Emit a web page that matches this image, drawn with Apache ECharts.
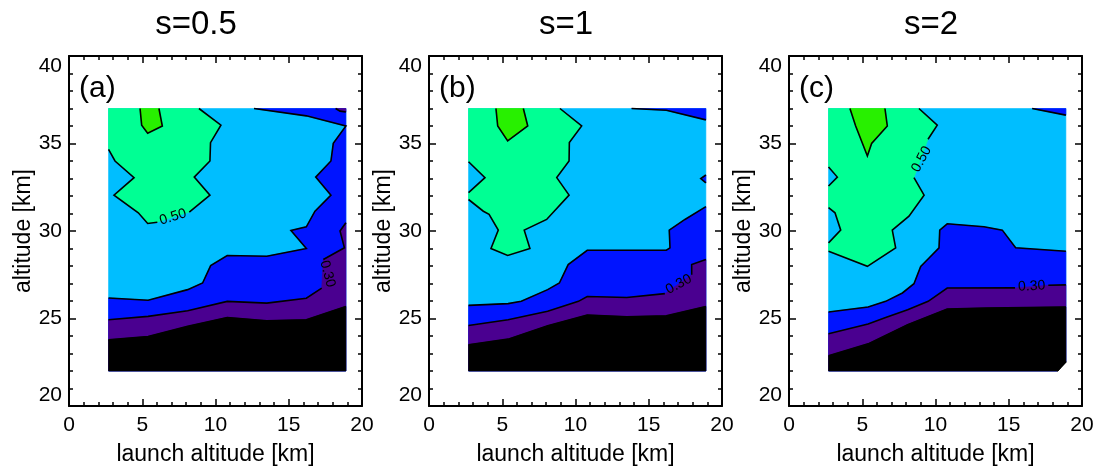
<!DOCTYPE html>
<html><head><meta charset="utf-8">
<script src="https://cdn.jsdelivr.net/npm/echarts@6/dist/echarts.min.js"></script>
<style>html,body{margin:0;padding:0;background:#fff;}#c{width:1094px;height:466px;}</style>
</head><body><div id="c"></div>
<script>
// ---------- text ----------
const titles = ['s=0.5', 's=1', 's=2'];
const tags = ['(a)', '(b)', '(c)'];
const xName = 'launch altitude [km]';
const yName = 'altitude [km]';
const xTickValues = [0, 5, 10, 15, 20];
const yTickValues = [20, 25, 30, 35, 40];

// ---------- data: contour regions [launch altitude km, altitude km]; null = gap for a contour label ----------
// Panel (a) s=0.5
const aDomain = [[2.7,22],[2.7,37],[18.9,37],[18.9,22]];
const aBlue = [[2.7,22],[2.7,26.17],[5.4,26.04],[8.1,26.65],[9.12,27.03],[9.67,28.02],[10.8,28.6],[13.5,28.56],[16.2,29.0],[15.15,30.03],[16.2,30.24],[16.79,31.13],[17.88,32.05],[16.84,33.08],[17.88,34.0],[18.04,35.01],[18.9,36.0],[16.2,36.58],[12.63,37],[18.9,37],[18.9,22]];
const aPurpleTop = [[18.2,37],[18.5,36.85],[18.9,36.8],[18.9,37]];
const aPurple = [[2.7,22],[2.7,24.93],[5.4,25.12],[8.1,25.44],[10.8,25.98],[13.5,25.88],[16.2,26.16],[17.25,26.74],null,[17.36,28.37],[18.8,29.04],[18.5,30.0],[18.9,30.47],[18.9,22]];
const aBlack = [[2.7,22],[2.7,23.78],[5.4,23.97],[8.1,24.55],[10.8,25.06],[13.5,24.87],[16.2,24.93],[18.9,25.69],[18.9,22]];
const aGreen = [[2.7,37],[2.7,34.67],[3.14,34.0],[4.44,33.05],[3.07,32.05],[4.73,31.04],[5.37,30.43],[6.03,30.5],null,[8.21,31.08],[9.62,32.05],[8.55,33.08],[9.62,34.0],[9.66,35.05],[10.37,36.05],[8.87,37]];
const aLime = [[4.85,37],[4.96,36.05],[5.37,35.59],[6.37,36.0],[6.14,37]];
const aLabelText = ['0.50', '0.30'];
const aLabelPos = [[7.1,30.8],[17.65,27.55]];

// Panel (b) s=1
const bDomain = [[2.7,22],[2.7,37],[18.9,37],[18.9,22]];
const bBlue = [[2.7,22],[2.7,25.75],[5.4,25.85],[6.3,25.98],[8.1,26.65],[8.9,27.03],[9.5,28.08],[10.8,28.9],[16.2,28.9],[16.45,29.04],[16.4,30.05],[17.47,30.66],[18.9,31.39],[18.9,22]];
const bBlueTop = [[13.83,37],[16.2,36.9],[18.9,36.35],[18.9,37]];
const bBlueNotch = [[18.9,33.2],[18.55,33.0],[18.9,32.75]];
const bPurple = [[2.7,22],[2.7,24.6],[5.4,24.93],[8.1,25.41],[10.2,25.98],[10.8,26.26],[13.5,26.2],[16.1,26.42],null,[17.93,27.5],[17.93,28.08],[18.9,28.37],[18.9,22]];
const bBlack = [[2.7,22],[2.7,23.5],[5.4,23.82],[8.1,24.58],[10.8,25.2],[13.5,25.1],[16.2,25.15],[18.9,25.69],[18.9,22]];
const bGreen = [[2.7,37],[2.7,33.96],[3.82,33.05],[2.7,32.19],[2.7,31.8],[3.71,31.13],[4.1,30.95],[4.73,30.05],[4.23,29.0],[5.37,28.6],[6.89,29.0],[6.5,30.05],[8.03,30.66],[9.56,32.05],[8.72,33.05],[9.56,34.0],[9.58,35.05],[10.42,36.0],[8.94,37]];
const bLime = [[4.57,37],[4.69,36.0],[5.37,35.15],[6.74,36.0],[6.44,37]];
const bLabelText = ['0.30'];
const bLabelPos = [[17.05,26.95]];

// Panel (c) s=2
const cDomain = [[2.7,22],[2.7,37],[18.9,37],[18.9,22.55],[18.3,22]];
const cBlue = [[2.7,22],[2.7,25.37],[5.4,25.66],[6.6,25.98],[7.74,26.46],[8.53,26.99],[8.99,27.98],[9.56,28.46],[10.24,29.04],[10.29,30.05],[10.8,30.41],[13.31,30.24],[14.56,30.05],[15.47,29.04],[18.9,28.84],[18.9,22.55],[18.3,22]];
const cBlueTop = [[16.6,37],[18.9,36.62],[18.9,37]];
const cPurple = [[2.7,22],[2.7,24.13],[5.4,24.68],[6.6,25.06],[8.1,25.5],[9.5,25.98],[10.8,26.74],[15.43,26.75],null,[17.7,26.9],[18.9,26.92],[18.9,22.55],[18.3,22]];
const cBlack = [[2.7,22],[2.7,22.87],[5.4,23.55],[8.1,24.65],[10.8,25.54],[13.5,25.6],[16.2,25.62],[18.9,25.66],[18.9,22.55],[18.3,22]];
const cGreen = [[2.7,37],[2.7,33.66],[3.3,33.08],[2.7,32.57],[2.7,31.33],[3.14,31.04],[3.53,30.05],[2.7,29.32],[2.7,28.84],[5.35,27.98],[7.28,29.04],[7.05,30.05],[8.19,30.85],[9.22,32.05],[8.53,33.05],null,[9.49,35.24],[10.12,36.05],[8.87,37]];
const cLime = [[4.16,37],[4.55,36.0],[5.35,34.29],[5.64,35.0],[6.71,36.0],[6.55,37]];
const cLabelText = ['0.50', '0.30'];
const cLabelPos = [[9.05,34.1],[16.57,26.84]];

// ---------- styling ----------
const COL = {
  lightblue: '#00BEFF', blue: '#0014FF', purple: '#4A0090',
  black: '#000000', green: '#00FF94', lime: '#28F000'
};
const FONT = '"Liberation Sans", Arial, Helvetica, sans-serif';
const gridLefts = [69, 429, 789];
const gridTop = 56, gridW = 293, gridH = 350;
const titleX = [196, 566, 931];
const labelRot = [[17, -75], [28], [62, 3]];

const panels = [
  { regions: [['lightblue', aDomain, false], ['blue', aBlue], ['purple', aPurpleTop], ['purple', aPurple], ['black', aBlack], ['green', aGreen], ['lime', aLime]],
    labelText: aLabelText, labelPos: aLabelPos },
  { regions: [['lightblue', bDomain, false], ['blue', bBlue], ['blue', bBlueTop], ['blue', bBlueNotch], ['purple', bPurple], ['black', bBlack], ['green', bGreen], ['lime', bLime]],
    labelText: bLabelText, labelPos: bLabelPos },
  { regions: [['lightblue', cDomain, false], ['blue', cBlue], ['blue', cBlueTop], ['purple', cPurple], ['black', cBlack], ['green', cGreen], ['lime', cLime]],
    labelText: cLabelText, labelPos: cLabelPos }
];

const DOM = { x0: 2.7, x1: 18.9, y0: 22, y1: 37 };
function onEdge(p, q) {
  return (p[0] === q[0] && (p[0] === DOM.x0 || p[0] === DOM.x1)) ||
         (p[1] === q[1] && (p[1] === DOM.y0 || p[1] === DOM.y1));
}
function contourSegments(ring) {
  const segs = []; let cur = [];
  const n = ring.length;
  for (let i = 0; i < n; i++) {
    const p = ring[i], q = ring[(i + 1) % n];
    if (!p || !q || onEdge(p, q)) { if (cur.length > 1) segs.push(cur); cur = []; continue; }
    if (cur.length === 0) cur.push(p);
    cur.push(q);
  }
  if (cur.length > 1) segs.push(cur);
  return segs;
}

const series = [];
panels.forEach((pn, pi) => {
  const shapes = [];
  pn.regions.forEach(r => shapes.push({ kind: 'poly', color: COL[r[0]], pts: r[1].filter(p => p) }));
  pn.regions.forEach(r => { if (r[2] !== false) contourSegments(r[1]).forEach(s => shapes.push({ kind: 'line', pts: s })); });
  pn.labelText.forEach((t, k) => shapes.push({ kind: 'text', text: t, at: pn.labelPos[k], rot: labelRot[pi][k] }));
  series.push({
    type: 'custom', coordinateSystem: 'cartesian2d', xAxisIndex: pi * 2, yAxisIndex: pi * 2,
    silent: true, clip: false, animation: false,
    data: shapes.map((s, i) => [i]),
    renderItem: function (params, api) {
      const s = shapes[params.dataIndex];
      if (s.kind === 'poly') {
        return { type: 'polygon', z2: params.dataIndex, shape: { points: s.pts.map(p => api.coord(p)) },
                 style: { fill: s.color, stroke: s.color, lineWidth: 0.6 } };
      }
      if (s.kind === 'line') {
        return { type: 'polyline', z2: 100 + params.dataIndex, shape: { points: s.pts.map(p => api.coord(p)) },
                 style: { stroke: '#000', lineWidth: 1.6, fill: null, lineJoin: 'miter' } };
      }
      const c = api.coord(s.at);
      return { type: 'text', z2: 200 + params.dataIndex, x: c[0], y: c[1], rotation: s.rot * Math.PI / 180,
               style: { text: s.text, fontSize: 14, fontFamily: FONT, fill: '#000', align: 'center', verticalAlign: 'middle' } };
    }
  });
});

const axisLineStyle = { show: true, onZero: false, lineStyle: { color: '#000', width: 2 } };
const tickStyle = { show: true, inside: true, length: 7, lineStyle: { color: '#000', width: 1.5 } };
const minorStyle = { show: true, splitNumber: 5, length: 4, lineStyle: { color: '#000', width: 1.5 } };
const grids = [], xAxes = [], yAxes = [];
gridLefts.forEach((L, i) => {
  grids.push({ left: L, top: gridTop, width: gridW, height: gridH, containLabel: false, outerBoundsMode: 'none' });
  xAxes.push({ gridIndex: i, type: 'value', position: 'bottom', min: xTickValues[0], max: xTickValues[xTickValues.length - 1],
    interval: xTickValues[1] - xTickValues[0],
    name: xName, nameLocation: 'middle', nameGap: 37,
    nameTextStyle: { fontSize: 23, fontFamily: FONT, color: '#000' },
    axisLine: axisLineStyle, axisTick: tickStyle, minorTick: minorStyle,
    axisLabel: { fontSize: 21, fontFamily: FONT, color: '#000', margin: 9 }, splitLine: { show: false } });
  xAxes.push({ gridIndex: i, type: 'value', position: 'top', min: xTickValues[0], max: xTickValues[xTickValues.length - 1],
    interval: xTickValues[1] - xTickValues[0],
    axisLine: axisLineStyle, axisTick: tickStyle, minorTick: minorStyle,
    axisLabel: { show: false }, splitLine: { show: false } });
  yAxes.push({ gridIndex: i, type: 'value', position: 'left', min: yTickValues[0], max: yTickValues[yTickValues.length - 1],
    interval: yTickValues[1] - yTickValues[0],
    name: yName, nameLocation: 'middle', nameGap: 34,
    nameTextStyle: { fontSize: 23, fontFamily: FONT, color: '#000' },
    axisLine: axisLineStyle, axisTick: tickStyle, minorTick: minorStyle,
    axisLabel: { fontSize: 21, fontFamily: FONT, color: '#000', margin: 7,
                 verticalAlignMinLabel: 'bottom', verticalAlignMaxLabel: 'top' },
    splitLine: { show: false } });
  yAxes.push({ gridIndex: i, type: 'value', position: 'right', min: yTickValues[0], max: yTickValues[yTickValues.length - 1],
    interval: yTickValues[1] - yTickValues[0],
    axisLine: axisLineStyle, axisTick: tickStyle, minorTick: minorStyle,
    axisLabel: { show: false }, splitLine: { show: false } });
});

const graphic = [];
titles.forEach((t, i) => graphic.push({ type: 'text', x: titleX[i], y: 25,
  style: { text: t, font: '33px ' + FONT, fill: '#000', align: 'center', verticalAlign: 'middle' } }));
tags.forEach((t, i) => graphic.push({ type: 'text', x: gridLefts[i] + 10, y: 89,
  style: { text: t, font: '30px ' + FONT, fill: '#000', align: 'left', verticalAlign: 'middle' } }));

const chart = echarts.init(document.getElementById('c'), null, { renderer: 'canvas' });
chart.setOption({
  animation: false, backgroundColor: '#fff',
  grid: grids, xAxis: xAxes, yAxis: yAxes, series: series, graphic: graphic
});
</script></body></html>
